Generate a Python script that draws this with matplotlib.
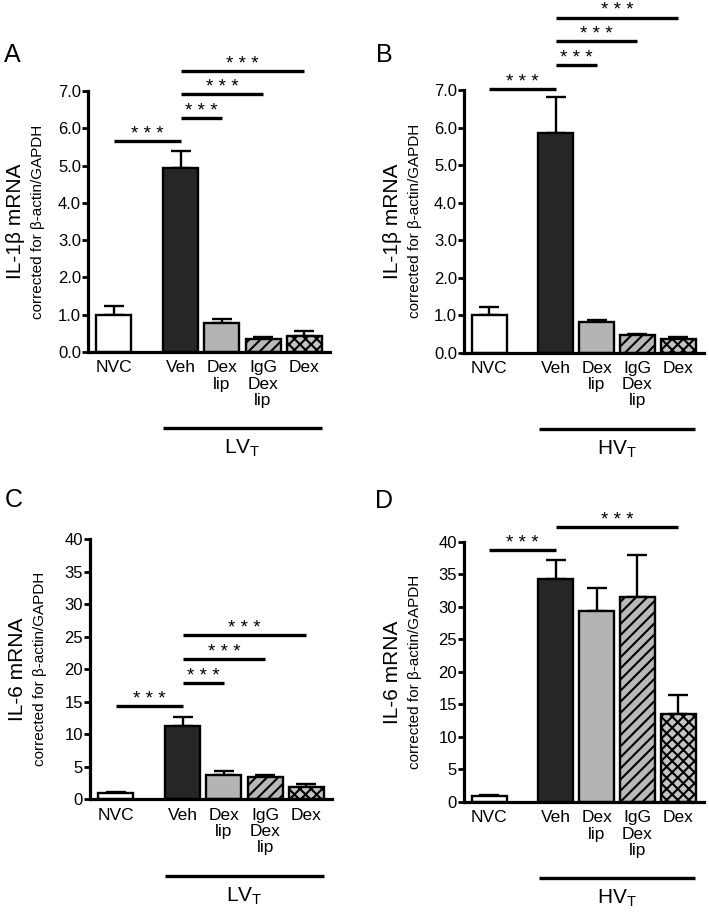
import numpy as np
import matplotlib
matplotlib.use("Agg")
import matplotlib.pyplot as plt
from matplotlib.transforms import blended_transform_factory

plt.rcParams['font.family'] = ['Liberation Sans', 'DejaVu Sans']
plt.rcParams['mathtext.fontset'] = 'custom'
plt.rcParams['mathtext.rm'] = 'Liberation Sans'
plt.rcParams['hatch.linewidth'] = 1.5

# ----------------------------
# Data
# ----------------------------
categories = ["NVC", "Veh", "Dex\nlip", "IgG\nDex\nlip", "Dex"]
positions = [0, 1.63, 2.63, 3.63, 4.63]

il1b_lv = [1.0, 4.93, 0.78, 0.36, 0.42]
il1b_lv_err = [0.22, 0.47, 0.10, 0.03, 0.14]
il1b_hv = [1.0, 5.86, 0.81, 0.46, 0.36]
il1b_hv_err = [0.22, 0.95, 0.05, 0.03, 0.05]
il6_lv = [1.0, 11.3, 3.8, 3.4, 1.9]
il6_lv_err = [0.15, 1.4, 0.5, 0.4, 0.4]
il6_hv = [1.0, 34.3, 29.3, 31.5, 13.6]
il6_hv_err = [0.1, 2.9, 3.6, 6.4, 2.8]

# significance brackets: (from bar, to bar, height)
sig_a = [(0, 1, 5.65), (1, 2, 6.27), (1, 3, 6.92), (1, 4, 7.54)]
sig_b = [(0, 1, 7.04), (1, 2, 7.67), (1, 3, 8.31), (1, 4, 8.94)]
sig_c = [(0, 1, 14.3), (1, 2, 17.9), (1, 3, 21.6), (1, 4, 25.2)]
sig_d = [(0, 1, 38.7), (1, 4, 42.2)]

fills = ["white", "#262626", "#b4b4b4", "#b8b8b8", "#c4c4c4"]
hatches = [None, None, None, "///", "xxx"]

# ----------------------------
# Drawing helper
# ----------------------------

def panel(ax, vals, errs, sigs, ymax, ystep, fmt, ylab, group):
    for i in range(5):
        ax.bar(positions[i], vals[i], width=0.85, color=fills[i],
               edgecolor="black", linewidth=1.7, hatch=hatches[i], zorder=2)
    ax.errorbar(positions, vals, yerr=[np.zeros(5), errs], fmt="none",
                ecolor="black", elinewidth=1.7, capsize=7, capthick=1.7, zorder=1)

    ax.set_xlim(-0.62, 5.25)
    ax.set_ylim(0, ymax)
    ticks = np.arange(0, ymax + 0.01, ystep)
    ax.set_yticks(ticks)
    ax.set_yticklabels([fmt % t for t in ticks])
    ax.set_xticks(positions)
    ax.set_xticklabels(categories, fontsize=12.5, linespacing=1.1, va="top")
    ax.tick_params(axis="x", length=0, pad=6)
    ax.tick_params(axis="y", direction="out", length=4, width=2, labelsize=12, pad=1)
    for s in ["top", "right"]:
        ax.spines[s].set_visible(False)
    for s in ["left", "bottom"]:
        ax.spines[s].set_linewidth(2.3)

    for a, b, h in sigs:
        ax.plot([positions[a], positions[b]], [h, h], color="black", lw=2.4,
                clip_on=False, solid_capstyle="butt")
        ax.annotate("* * *", xy=((positions[a] + positions[b]) / 2, h),
                    xytext=(0, 1.5), textcoords="offset points",
                    ha="center", va="baseline", fontsize=13.5, annotation_clip=False)

    trans = blended_transform_factory(ax.transData, ax.transAxes)
    ax.plot([positions[1] - 0.42, positions[4] + 0.42], [-0.292, -0.292],
            color="black", lw=2.4, transform=trans, clip_on=False,
            solid_capstyle="butt")
    ax.text((positions[1] + positions[4]) / 2, -0.37, group, transform=trans,
            ha="center", va="center", fontsize=15)

    ax.text(-0.30, 0.5, ylab, transform=ax.transAxes, rotation=90,
            ha="center", va="center", fontsize=15)
    ax.text(-0.205, 0.5, "corrected for β-actin/GAPDH", transform=ax.transAxes,
            rotation=90, ha="center", va="center", fontsize=11)
    return ax

fig = plt.figure(figsize=(7.09, 9.14), dpi=100)

ax_a = fig.add_axes([0.1241, 0.6149, 0.341, 0.2856])
ax_b = fig.add_axes([0.6544, 0.6143, 0.338, 0.2870])
ax_c = fig.add_axes([0.1270, 0.1253, 0.341, 0.2850])
ax_d = fig.add_axes([0.6544, 0.1225, 0.338, 0.2848])

panel(ax_a, il1b_lv, il1b_lv_err, sig_a, 7, 1, "%.1f", "IL-1β mRNA", "LV$_\\mathregular{T}$")
panel(ax_b, il1b_hv, il1b_hv_err, sig_b, 7, 1, "%.1f", "IL-1β mRNA", "HV$_\\mathregular{T}$")
panel(ax_c, il6_lv, il6_lv_err, sig_c, 40, 5, "%d", "IL-6 mRNA", "LV$_\\mathregular{T}$")
panel(ax_d, il6_hv, il6_hv_err, sig_d, 40, 5, "%d", "IL-6 mRNA", "HV$_\\mathregular{T}$")

# panel letters
for letter, x, y in [("A", 12, 55), ("B", 384, 55), ("C", 14, 500), ("D", 384, 501)]:
    fig.text(x / 709, 1 - y / 914, letter, ha="center", va="center", fontsize=18)

fig.savefig("out.png", dpi=100)
